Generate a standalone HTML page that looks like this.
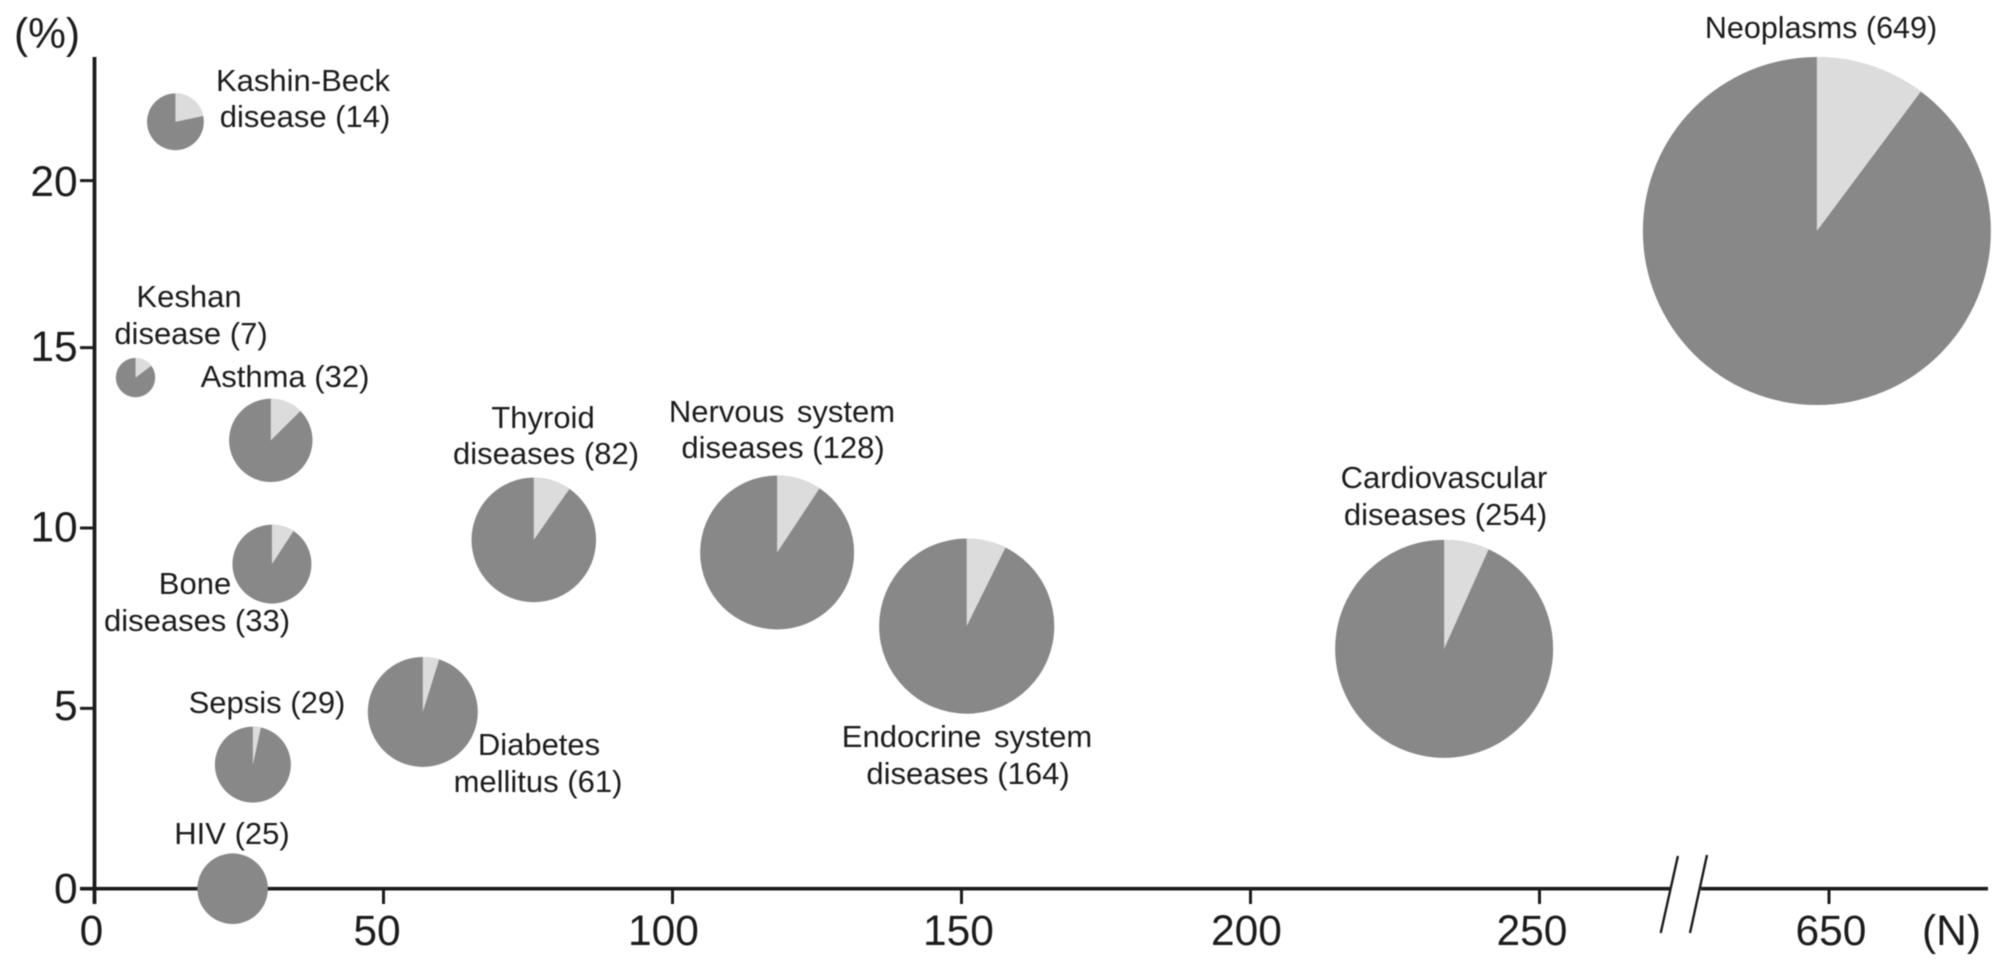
<!DOCTYPE html>
<html>
<head>
<meta charset="utf-8">
<title>Disease bubble pie chart</title>
<style>
html,body{margin:0;padding:0;background:#fff;width:2008px;height:970px;overflow:hidden}
svg{display:block;filter:blur(0.6px)}
text{font-family:"Liberation Sans",sans-serif;fill:#1c1c1c}
.lbl{font-size:31px;text-anchor:middle}
.wide{word-spacing:4px}
.tick{font-size:42.5px}
</style>
</head>
<body>
<svg id="chart" width="2008" height="970" viewBox="0 0 2008 970" xmlns="http://www.w3.org/2000/svg">
  <g id="axes" stroke="#1c1c1c" fill="none">
    <line x1="94.5" y1="57" x2="94.5" y2="904" stroke-width="3.8"/>
    <line x1="80" y1="888.7" x2="1670" y2="888.7" stroke-width="3.6"/>
    <line x1="1701" y1="888.7" x2="1988" y2="888.7" stroke-width="3.6"/>
    <line x1="1677.9" y1="856" x2="1660.7" y2="933" stroke-width="2.4"/>
    <line x1="1707" y1="855" x2="1690" y2="933" stroke-width="2.4"/>
  </g>
  <g id="ticks"></g>
  <g id="pies"></g>

  <text x="47" y="48" font-size="42.5" text-anchor="middle">(%)</text>
  <text x="1951.5" y="945" font-size="42.5" text-anchor="middle">(N)</text>

  <g><text class="lbl" x="303" y="91">Kashin-Beck</text><text class="lbl" x="305" y="127">disease (14)</text></g>
  <g><text class="lbl" x="189" y="307">Keshan</text><text class="lbl" x="191" y="344">disease (7)</text></g>
  <text class="lbl" x="285" y="387">Asthma (32)</text>
  <g><text class="lbl" x="543" y="428">Thyroid</text><text class="lbl" x="546" y="464">diseases (82)</text></g>
  <g><text class="lbl wide" x="782" y="422">Nervous system</text><text class="lbl" x="783" y="458">diseases (128)</text></g>
  <g><text class="lbl" x="1444" y="488">Cardiovascular</text><text class="lbl" x="1445.5" y="525">diseases (254)</text></g>
  <text class="lbl" style="font-size:30.5px" x="1821" y="38">Neoplasms (649)</text>
  <g><text class="lbl" x="195" y="594">Bone</text><text class="lbl" x="197" y="631">diseases (33)</text></g>
  <text class="lbl" x="267" y="713">Sepsis (29)</text>
  <g><text class="lbl" x="539" y="755">Diabetes</text><text class="lbl" x="538" y="792">mellitus (61)</text></g>
  <text class="lbl" x="232" y="844">HIV (25)</text>
  <g><text class="lbl wide" x="967" y="747">Endocrine system</text><text class="lbl" x="968" y="784">diseases (164)</text></g>
</svg>
<script>
const diseases = ["kashin-beck","keshan","asthma","bone","sepsis","diabetes","hiv","thyroid","nervous-system","endocrine-system","cardiovascular","neoplasms"];
const plottedN = [14,7.1,30.5,30.7,27.4,56.8,23.9,76,118.1,150.9,233.5,647.9];
const percentValues = [21.76,14.17,12.43,9.0,3.44,4.9,0,9.67,9.32,7.28,6.65,18.49];
const slicePercent = [21.7,14.8,12.6,9.2,3.4,4.8,0,9.7,9.3,7.3,6.7,10.2];
const bubbleAreas = [807,388,1739,1560,1444,3025,1246,3881,5929,7674,11881,30276];
const xTickValues = [0,50,100,150,200,250,650];
const yTickValues = [0,5,10,15,20];

const NS = "http://www.w3.org/2000/svg";
function xScale(v){ return v <= 400 ? 94.5 + 5.78 * v : 1829 + 5.78 * (v - 650); }
function yScale(v){ return v <= 15 ? 888.7 - 36.07 * v : 347.6 - 33.4 * (v - 15); }
function rScale(a){ return Math.sqrt(a); }
function make(tag, attrs, parent){
  const el = document.createElementNS(NS, tag);
  for (const k in attrs) el.setAttribute(k, attrs[k]);
  parent.appendChild(el);
  return el;
}

const ticks = document.getElementById("ticks");
const xNudge = {0:-3,50:-6.5,100:-9,150:-3,200:-4,250:-7.5,650:2};
const yNudge = {0:14.3,5:11.5,10:13.7,15:13.4,20:15.5};
xTickValues.forEach(function(v){
  const x = xScale(v);
  if (v !== 0) {
    const t = make("line",{x1:x,y1:888.7,x2:x,y2:904,stroke:"#1c1c1c","stroke-width":3},ticks);
    
    
  }
  const l = make("text",{x:x+xNudge[v],y:945,"text-anchor":"middle",class:"tick"},ticks);
  l.textContent = v;
  
  
});
yTickValues.forEach(function(v){
  const y = yScale(v);
  const t = make("line",{x1:80,y1:y,x2:94,y2:y,stroke:"#1c1c1c","stroke-width":3},ticks);
  
  
  const l = make("text",{x:77.7,y:y+yNudge[v],"text-anchor":"end",class:"tick"},ticks);
  l.textContent = v;
  
  
});

const pies = document.getElementById("pies");
diseases.forEach(function(name,i){
  const cx = xScale(plottedN[i]), cy = yScale(percentValues[i]), r = rScale(bubbleAreas[i]);
  const g = make("g",{},pies);
  
  
  const body = make("circle",{cx:cx,cy:cy,r:r,fill:"#888888"},g);
  
  
  if (slicePercent[i] > 0) {
    const a = slicePercent[i] / 100 * 2 * Math.PI;
    const ex = cx + r * Math.sin(a), ey = cy - r * Math.cos(a);
    const large = slicePercent[i] > 50 ? 1 : 0;
    const d = "M" + cx + " " + cy + "L" + cx + " " + (cy - r) + "A" + r + " " + r + " 0 " + large + " 1 " + ex + " " + ey + "Z";
    const s = make("path",{d:d,fill:"#dcdcdc"},g);
    
    
  }
});
</script>
</body>
</html>
